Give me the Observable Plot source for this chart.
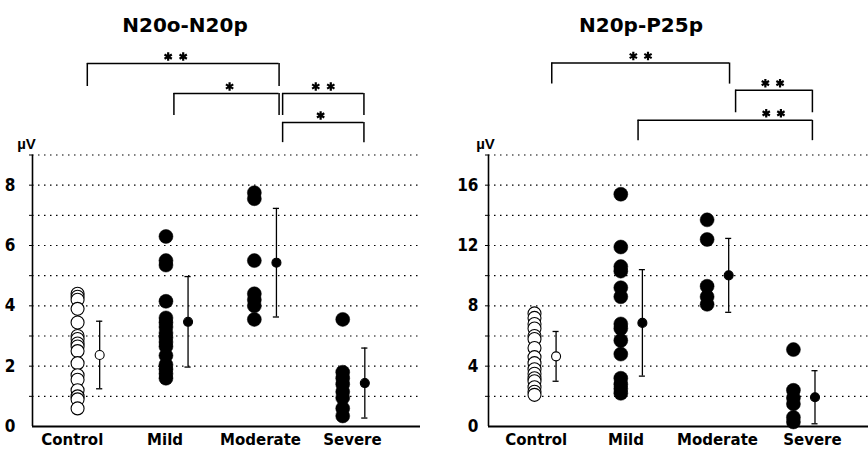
<!DOCTYPE html>
<html><head><meta charset="utf-8">
<script src="https://cdn.jsdelivr.net/npm/d3@7"></script>
<script src="https://cdn.jsdelivr.net/npm/@observablehq/plot@0.6"></script>
<style>
body{margin:0;background:#fff;}
#wrap{position:relative;width:868px;height:450px;overflow:hidden;background:#fff;}
.panel{position:absolute;top:0;}
.title{position:absolute;top:15px;width:300px;text-align:center;font-family:"DejaVu Sans",sans-serif;font-weight:bold;font-size:20px;line-height:20px;color:#000;}
</style></head>
<body><div id="wrap"></div>
<script>
const groups = ["Control", "Mild", "Moderate", "Severe"];
const titles = ["N20o-N20p", "N20p-P25p"];
const unitLabel = "µV";

// Panel 1: N20o-N20p
const p1Control = [4.4, 4.3, 4.2, 3.9, 3.45, 3.0, 2.9, 2.75, 2.65, 2.5, 2.1, 1.7, 1.55, 1.2, 1.0, 0.9, 0.6];
const p1Mild = [6.3, 5.5, 5.35, 4.15, 3.6, 3.45, 3.3, 3.1, 2.95, 2.8, 2.65, 2.35, 2.05, 1.9, 1.75, 1.6];
const p1Moderate = [7.75, 7.55, 5.5, 4.4, 4.2, 4.0, 3.55];
const p1Severe = [3.55, 1.8, 1.6, 1.4, 1.15, 0.95, 0.6, 0.35];
const p1Mean = [2.37, 3.47, 5.43, 1.44];
const p1SD = [1.12, 1.5, 1.8, 1.16];
const p1Ticks = [0, 2, 4, 6, 8];
const p1Grid = [1, 2, 3, 4, 5, 6, 7, 8, 9];
const p1Brackets = [
  {from: 0.11, to: 2.28, top: 12.03, bottom: 11.27, stars: 2, starX: 1.11},
  {from: 1.09, to: 2.28, top: 11.04, bottom: 10.31, stars: 1, starX: 1.72},
  {from: 2.32, to: 3.24, top: 11.04, bottom: 10.31, stars: 2, starX: 2.78},
  {from: 2.32, to: 3.24, top: 10.08, bottom: 9.41, stars: 1, starX: 2.75}
];

// Panel 2: N20p-P25p
const p2Control = [7.5, 7.2, 6.8, 6.5, 6.0, 5.8, 5.2, 4.6, 4.2, 3.8, 3.5, 3.2, 3.0, 2.6, 2.3, 2.1];
const p2Mild = [15.4, 11.9, 10.6, 10.3, 9.2, 8.6, 6.8, 6.5, 5.7, 4.8, 3.2, 2.8, 2.5, 2.2];
const p2Moderate = [13.7, 12.4, 9.3, 8.6, 8.1];
const p2Severe = [5.1, 2.4, 1.9, 1.5, 0.6, 0.3];
const p2Mean = [4.65, 6.87, 10.02, 1.94];
const p2SD = [1.65, 3.53, 2.45, 1.76];
const p2Ticks = [0, 4, 8, 12, 16];
const p2Grid = [2, 4, 6, 8, 10, 12, 14, 16, 18];
const p2Brackets = [
  {from: 0.2, to: 2.26, top: 24.1, bottom: 22.7, stars: 2, starX: 1.23},
  {from: 2.33, to: 3.22, top: 22.3, bottom: 20.8, stars: 2, starX: 2.76},
  {from: 1.2, to: 3.22, top: 20.3, bottom: 18.95, stars: 2, starX: 2.77}
];

function panel(cfg) {
  const values = cfg.values;
  const pts = groups.flatMap((g, i) => values[i].map(v => ({g, i, v})));
  const openPts = pts.filter(d => d.i === 0);
  const fillPts = pts.filter(d => d.i !== 0);
  const stats = groups.map((g, i) => ({g, i, xm: i + 0.25, mean: cfg.mean[i], lo: cfg.mean[i] - cfg.sd[i], hi: cfg.mean[i] + cfg.sd[i]}));
  const stars = cfg.brackets.flatMap(b => d3.range(b.stars).map(k => ({x: b.starX + (k - (b.stars - 1) / 2) * 0.17, y: b.top})));
  const yMax = cfg.grid[cfg.grid.length - 1];
  const labels = groups.map((g, i) => ({g, x: i + cfg.labelShift[i]}));
  return Plot.plot({
    width: 434, height: 450,
    marginTop: 154.5, marginBottom: 24, marginLeft: cfg.marginLeft, marginRight: cfg.marginRight,
    style: {fontFamily: "'Liberation Sans Narrow','DejaVu Sans Condensed',sans-serif", fontSize: "17px", fontWeight: "bold", color: "#000", background: "transparent"},
    x: {type: "linear", domain: cfg.xDomain, axis: null},
    y: {domain: [0, yMax], axis: null},
    marks: [
      Plot.ruleY(cfg.grid, {stroke: "#000", strokeWidth: 1.2, strokeDasharray: "1.5,4.5"}),
      Plot.axisY({ticks: cfg.grid, tickSize: 3, tickFormat: () => "", stroke: "#000"}),
      Plot.axisY({ticks: cfg.ticks, tickSize: 0, tickPadding: cfg.tickPad, fill: "#000"}),
      Plot.ruleX([cfg.xDomain[0]], {y1: 0, y2: yMax, stroke: "#000", strokeWidth: 1.6}),
      Plot.ruleY([0], {stroke: "#000", strokeWidth: 1.8}),
      Plot.dot(openPts, {x: "i", y: "v", r: 6.5, fill: "white", stroke: "#000", strokeWidth: 1.1}),
      Plot.dot(fillPts, {x: "i", y: "v", r: 7, fill: "#000", stroke: "#000", strokeWidth: 0.5}),
      Plot.ruleX(stats, {x: "xm", y1: "lo", y2: "hi", stroke: "#000", strokeWidth: 1.3}),
      Plot.ruleY(stats, {y: "hi", x1: d => d.xm - 0.035, x2: d => d.xm + 0.035, stroke: "#000", strokeWidth: 1.3}),
      Plot.ruleY(stats, {y: "lo", x1: d => d.xm - 0.035, x2: d => d.xm + 0.035, stroke: "#000", strokeWidth: 1.3}),
      Plot.dot(stats, {x: "xm", y: "mean", r: 4.5, fill: d => d.i === 0 ? "white" : "black", stroke: "#000", strokeWidth: 1.1}),
      Plot.ruleY(cfg.brackets, {y: "top", x1: "from", x2: "to", stroke: "#000", strokeWidth: 1.5}),
      Plot.ruleX(cfg.brackets, {x: "from", y1: "bottom", y2: "top", stroke: "#000", strokeWidth: 1.5}),
      Plot.ruleX(cfg.brackets, {x: "to", y1: "bottom", y2: "top", stroke: "#000", strokeWidth: 1.5}),
      Plot.dot(stars, {x: "x", y: "y", symbol: "asterisk", r: 4, stroke: "#000", strokeWidth: 2.2, dy: -7}),
      Plot.text(labels, {x: "x", y: () => 0, text: "g", lineAnchor: "top", dy: 8, fontSize: 15, fontWeight: "bold", fontFamily: "'DejaVu Sans',sans-serif", fill: "#000"}),
      Plot.text([unitLabel], {frameAnchor: "top-left", text: d => d, dx: cfg.unitDx, dy: -6, lineAnchor: "bottom", textAnchor: "middle", fontSize: 15, fontWeight: "bold", fontFamily: "'Liberation Sans',Arial,sans-serif", fill: "#000"})
    ]
  });
}

const wrap = document.getElementById("wrap");
const cfgs = [
  {values: [p1Control, p1Mild, p1Moderate, p1Severe], mean: p1Mean, sd: p1SD, ticks: p1Ticks, grid: p1Grid, brackets: p1Brackets,
   xDomain: [-0.51, 3.88], marginLeft: 32, marginRight: 14, tickPad: 17, unitDx: -6, labelShift: [-0.06, -0.01, 0.07, 0.11], left: 0, titleCenter: 185},
  {values: [p2Control, p2Mild, p2Moderate, p2Severe], mean: p2Mean, sd: p2SD, ticks: p2Ticks, grid: p2Grid, brackets: p2Brackets,
   xDomain: [-0.533, 3.87], marginLeft: 54, marginRight: 0, tickPad: 10, unitDx: -3, labelShift: [0.02, 0.06, 0.12, 0.22], left: 434, titleCenter: 641}
];
cfgs.forEach((cfg, k) => {
  const div = document.createElement("div");
  div.className = "panel";
  div.style.left = cfg.left + "px";
  div.appendChild(panel(cfg));
  wrap.appendChild(div);
  const t = document.createElement("div");
  t.className = "title";
  t.textContent = titles[k];
  t.style.left = (cfg.titleCenter - 150) + "px";
  wrap.appendChild(t);
});
</script>
</body></html>
